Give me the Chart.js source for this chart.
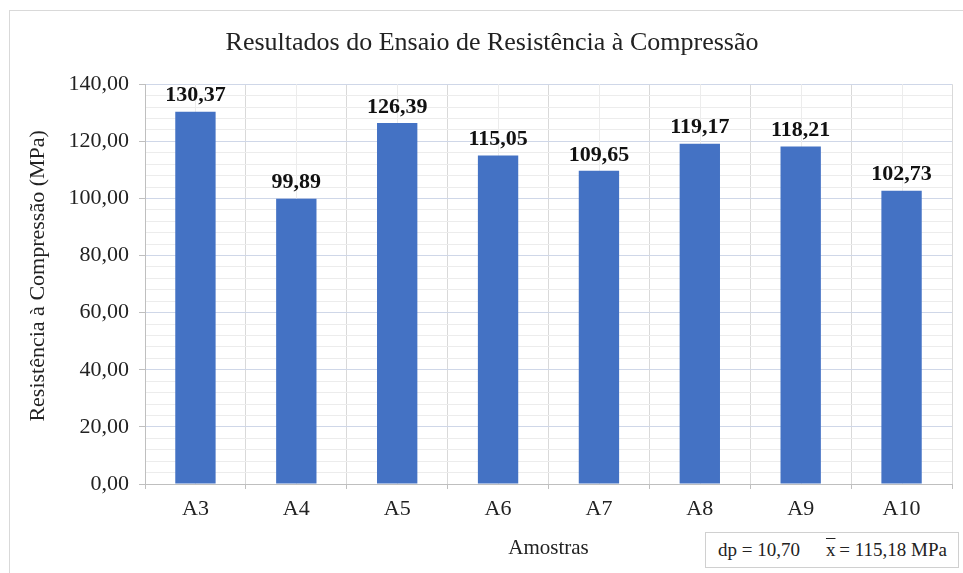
<!DOCTYPE html>
<html>
<head>
<meta charset="utf-8">
<script src="https://cdn.jsdelivr.net/npm/chart.js@4"></script>
<style>
  html, body { margin: 0; padding: 0; background: #fff; }
  #wrap { position: relative; width: 963px; height: 573px; overflow: hidden; }
  #frame { position: absolute; left: 9px; top: 10px; width: 1000px; height: 600px;
           border-left: 1px solid #d9d9d9; border-top: 1px solid #d9d9d9; }
  canvas { position: absolute; left: 0; top: 0; }
  #stats { position: absolute; left: 705px; top: 532px; width: 254px; height: 36px;
           border: 1px solid #d0d0d0; background: #fff; box-sizing: border-box;
           font-family: "Liberation Serif", "Times New Roman", serif; font-size: 19px;
           color: #222; line-height: 34px; padding-left: 12px; white-space: nowrap; }
  .xbar { text-decoration: overline; margin-left: 26px; }
</style>
</head>
<body>
<div id="wrap">
  <div id="frame"></div>
  <canvas id="chart" width="963" height="573"></canvas>
  <div id="stats"></div>
</div>
<script>
// amostras e resistências (MPa)
const amostras = ["A3", "A4", "A5", "A6", "A7", "A8", "A9", "A10"];
const resistencia = [130.37, 99.89, 126.39, 115.05, 109.65, 119.17, 118.21, 102.73];
const yTicks = [0, 20, 40, 60, 80, 100, 120, 140];
const desvioPadrao = "10,70";
const media = "115,18";

const serif = "'Liberation Serif', 'Times New Roman', serif";

function fmt(v) {
  return v.toFixed(2).replace(".", ",");
}

document.getElementById("stats").innerHTML =
  "dp = " + desvioPadrao + "<span class='xbar'>x</span>&thinsp;= " + media + " MPa";

// linhas de grade secundárias (centro de cada categoria)
const minorGrid = {
  id: "minorGrid",
  beforeDatasetsDraw(chart) {
    const ctx = chart.ctx;
    const x = chart.scales.x;
    const area = chart.chartArea;
    ctx.save();
    ctx.strokeStyle = "#ececec";
    ctx.lineWidth = 1;
    amostras.forEach((a, i) => {
      const px = Math.round(x.getPixelForValue(i)) + 0.5;
      ctx.beginPath();
      ctx.moveTo(px, area.top);
      ctx.lineTo(px, area.bottom);
      ctx.stroke();
    });
    ctx.restore();
  },
};

// rótulos de dados acima das barras
const barLabels = {
  id: "barLabels",
  afterDatasetsDraw(chart) {
    const ctx = chart.ctx;
    const meta = chart.getDatasetMeta(0);
    ctx.save();
    ctx.font = "bold 22px " + serif;
    ctx.fillStyle = "#111";
    ctx.textAlign = "center";
    ctx.textBaseline = "middle";
    meta.data.forEach((bar, i) => {
      ctx.fillText(fmt(resistencia[i]), bar.x, bar.y - 16);
    });
    ctx.restore();
  },
};

new Chart(document.getElementById("chart").getContext("2d"), {
  type: "bar",
  data: {
    labels: amostras,
    datasets: [
      {
        data: resistencia,
        backgroundColor: "#4472C4",
        borderWidth: 0,
        barPercentage: 0.4,
        categoryPercentage: 1.0,
      },
    ],
  },
  options: {
    responsive: false,
    animation: false,
    events: [],
    layout: { padding: { left: 32, right: 11, top: 0, bottom: 0 } },
    plugins: {
      legend: { display: false },
      tooltip: { enabled: false },
      title: {
        display: true,
        text: "Resultados do Ensaio de Resistência à Compressão",
        color: "#222",
        font: { family: serif, size: 26, weight: "normal", lineHeight: 1.2 },
        padding: { top: 28, bottom: 25 },
      },
    },
    scales: {
      x: {
        offset: true,
        grid: {
          offset: true,
          color: "#d9d9d9",
          tickColor: "#bfbfbf",
          tickLength: 5,
        },
        border: { color: "#bfbfbf" },
        ticks: {
          color: "#222",
          font: { family: serif, size: 22 },
          padding: 7,
        },
        title: {
          display: true,
          text: "Amostras",
          color: "#222",
          font: { family: serif, size: 21, lineHeight: 1.2 },
          padding: { top: 0, bottom: 12 },
        },
        afterFit(scale) {
          scale.height = 89;
        },
      },
      y: {
        min: 0,
        max: 140,
        ticks: {
          stepSize: 4,
          autoSkip: false,
          color: "#222",
          font: { family: serif, size: 22 },
          padding: 10,
          callback: (v) => (yTicks.includes(v) ? fmt(v) : ""),
        },
        grid: {
          color: (c) => (c.tick && c.tick.value % 20 === 0 ? "#cfd7e8" : "#ececec"),
          tickColor: (c) => (c.tick && c.tick.value % 20 === 0 ? "#bfbfbf" : "rgba(0,0,0,0)"),
          tickLength: 6,
        },
        border: { color: "#bfbfbf" },
        title: {
          display: true,
          text: "\u00a0\u00a0\u00a0Resistência à Compressão (MPa)",
          color: "#222",
          font: { family: serif, size: 22, lineHeight: 1.0 },
          padding: { top: -5, bottom: 0 },
        },
        afterFit(scale) {
          scale.width = 113;
        },
      },
    },
  },
  plugins: [minorGrid, barLabels],
});
</script>
</body>
</html>
